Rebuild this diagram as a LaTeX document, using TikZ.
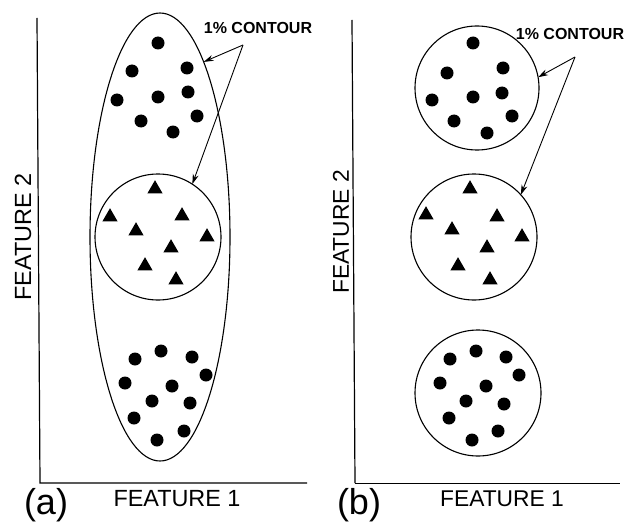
\documentclass[tikz,border=0pt]{standalone}
\usepackage{fontspec}
\setmainfont{Liberation Sans}
\usetikzlibrary{shapes.geometric,arrows.meta}
\begin{document}
\begin{tikzpicture}[x=0.5pt,y=-0.5pt,
  contour/.style={draw,line width=0.55pt,inner sep=0pt,outer sep=0pt},
  ring/.style={contour,circle,minimum size=#1},
  axisline/.style={line width=0.6pt},
  ptarrow/.style={line width=0.45pt,-{Stealth[length=5pt,width=3pt]}},
  axlabel/.style={font=\fontsize{11.7pt}{12pt}\selectfont,inner sep=0pt},
  panellabel/.style={font=\fontsize{18pt}{20pt}\selectfont,inner sep=0pt},
  ctlabel/.style={font=\bfseries\fontsize{8pt}{9pt}\selectfont,inner sep=0pt},
  dot/.style={circle,fill=black,inner sep=0pt,minimum size=6.5pt},
  tri/.style={regular polygon,regular polygon sides=3,fill=black,inner sep=0pt,minimum size=8.8pt}
]
\useasboundingbox (0,0) rectangle (631,524);

% ---------------- panel (a) ----------------
\coordinate (ayt) at (37,18);
\coordinate (ao) at (40,483);
\coordinate (axr) at (307,483);
\draw[axisline] (ayt) -- (ao) -- (axr);

\node[contour,ellipse,minimum width=70pt,minimum height=224pt] (ellA) at (160,237) {};
\node[ring=63pt] (cirA) at (158,237) {};

\foreach \p [count=\i] in {(158,43),(132,71),(187,68),(117,100),(158,97),(188,92),(197,116),(141,121),(173,132)}
  \node[dot] (ad\i) at \p {};
\foreach \p [count=\i] in {(155,189),(110,217),(182,216),(136,231),(207,237),(171,248),(145,266),(176,280)}
  \node[tri] (at\i) at \p {};
\foreach \p [count=\i] in {(161,351),(135,359),(192,357),(125,383),(206,375),(172,386),(152,401),(190,403),(134,418),(184,431),(157,440)}
  \node[dot] (ab\i) at \p {};

\node[ctlabel] (ctA) at (258,28) {1\% CONTOUR};
\coordinate (srcA) at (243,45);
\draw[ptarrow] (srcA) -- (ellA.76);
\draw[ptarrow] (srcA) -- (cirA.57);

\node[axlabel,rotate=90] (f2a) at (23,237) {FEATURE 2};
\node[axlabel] (f1a) at (177,499) {FEATURE 1};
\node[panellabel] (pa) at (46,505) {(a)};

% ---------------- panel (b) ----------------
\coordinate (byt) at (352,20);
\coordinate (bo) at (355,483);
\coordinate (bxr) at (620,483);
\draw[axisline] (byt) -- (bo);
\draw[line width=0.45pt] (bo) -- (bxr);

\node[ring=62pt] (cirB1) at (477,88) {};
\node[ring=63pt] (cirB2) at (474,237) {};
\node[ring=63pt] (cirB3) at (478,393) {};

\foreach \p [count=\i] in {(473,43),(447,73),(503,68),(432,100),(473,97),(502,93),(512,116),(454,121),(487,133)}
  \node[dot] (bd\i) at \p {};
\foreach \p [count=\i] in {(470,189),(426,215),(497,217),(452,230),(522,237),(487,248),(458,266),(490,280)}
  \node[tri] (bt\i) at \p {};
\foreach \p [count=\i] in {(476,351),(450,359),(506,357),(440,383),(519,375),(486,386),(466,401),(504,404),(449,418),(498,431),(472,440)}
  \node[dot] (bb\i) at \p {};

\node[ctlabel] (ctB) at (570,34) {1\% CONTOUR};
\coordinate (srcB) at (575,57);
\draw[ptarrow] (srcB) -- (cirB1.10);
\draw[ptarrow] (srcB) -- (cirB2.42);

\node[axlabel,rotate=90,font=\fontsize{11.4pt}{12pt}\selectfont] (f2b) at (341,232) {FEATURE 2};
\node[axlabel,font=\fontsize{11.4pt}{12pt}\selectfont] (f1b) at (502,499) {FEATURE 1};
\node[panellabel] (pb) at (359,505) {(b)};
\end{tikzpicture}
\end{document}
